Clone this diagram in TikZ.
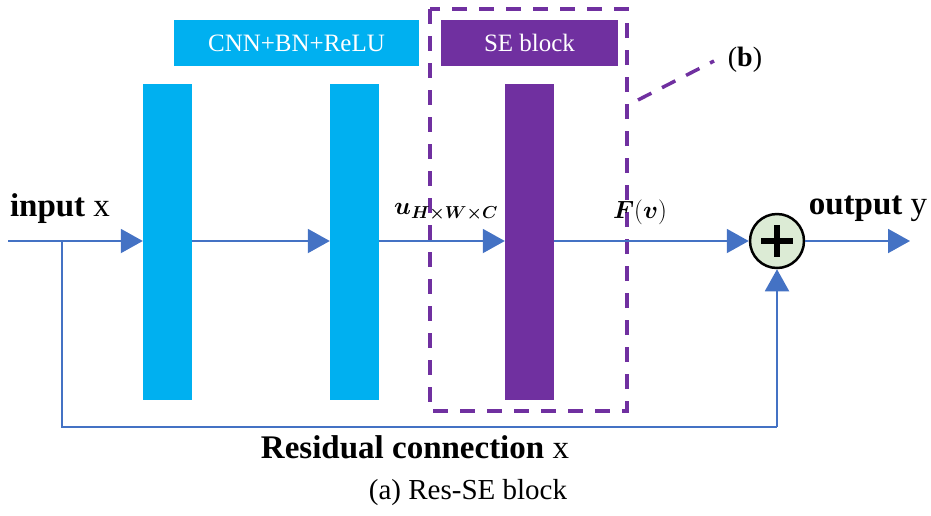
\documentclass[tikz,border=0pt]{standalone}
\usepackage{bm}
\usepackage{fontspec}
\setmainfont{Liberation Serif}
\usetikzlibrary{arrows.meta}
\definecolor{cyanb}{HTML}{00B0F0}
\definecolor{purp}{HTML}{7030A0}
\definecolor{lineb}{HTML}{4472C4}
\definecolor{sumfill}{HTML}{DCEBD5}
\begin{document}
\begin{tikzpicture}[x=1pt,y=-1pt,
  bar/.style={draw=none,minimum width=49pt,minimum height=316pt,inner sep=0pt},
  lbl/.style={draw=none,minimum height=46pt,inner sep=0pt,text=white,font=\fontsize{25}{30}\selectfont},
  conn/.style={draw=lineb,line width=2pt},
  arr/.style={conn,-{Triangle[length=22pt,width=24pt]}},
  dsh/.style={purp,line width=3.5pt,dash pattern=on 15pt off 12pt},
  big/.style={font=\fontsize{33}{38}\selectfont}]
\useasboundingbox (0,0) rectangle (931,515);
% label boxes
\node[lbl,fill=cyanb,minimum width=245pt] (lcnn) at (296.5,43) {CNN+BN+ReLU};
\node[lbl,fill=purp,minimum width=177pt] (lse) at (529.5,43) {SE block};
% bars
\node[bar,fill=cyanb] (b1) at (167.5,242) {};
\node[bar,fill=cyanb] (b2) at (354.5,242) {};
\node[bar,fill=purp] (b3) at (529.5,242) {};
% dashed box
\draw[dsh] (430,9) rectangle (627,411);
\coordinate (d1) at (638,100);
\coordinate (d2) at (714,61);
\draw[dsh] (d1) -- (d2);
\node[font=\fontsize{28}{32}\selectfont] (blab) at (745,60) {(\textbf{b})};
% sum
\node[circle,draw=black,line width=2.5pt,fill=sumfill,minimum size=54pt,inner sep=0pt] (sum) at (777,241) {};
\draw[line width=6pt] (761,241) -- (793,241) (777,225) -- (777,257);
% main line
\coordinate (in) at (8,241);
\coordinate (out) at (910,241);
\coordinate (split) at (62,241);
\draw[arr] (in) -- (b1.west |- in);
\draw[arr] (b1.east |- in) -- (b2.west |- in);
\draw[arr] (b2.east |- in) -- (b3.west |- in);
\draw[arr] (b3.east |- in) -- (sum.west);
\draw[arr] (sum.east) -- (out);
\coordinate (r1) at (62,427);
\coordinate (r2) at (777,427);
\draw[conn] (split) -- (r1) -- (r2);
\draw[arr] (r2) -- (sum.south);
% texts
\node[big] (tin) at (60,209) {\textbf{input} x};
\node[big] (tout) at (868,209) {\textbf{output} y};
\node[font=\fontsize{26}{30}\selectfont] (tu) at (446,212) {$\bm{u}_{\bm{H\times W\times C}}$};
\node[font=\fontsize{26}{30}\selectfont] (tf) at (640,212) {$\bm{F}(\bm{v})$};
\node[big] (tres) at (415,447) {\textbf{Residual connection} x};
\node[font=\fontsize{29}{34}\selectfont] (cap) at (468,493) {(a) Res-SE block};
\end{tikzpicture}
\end{document}
